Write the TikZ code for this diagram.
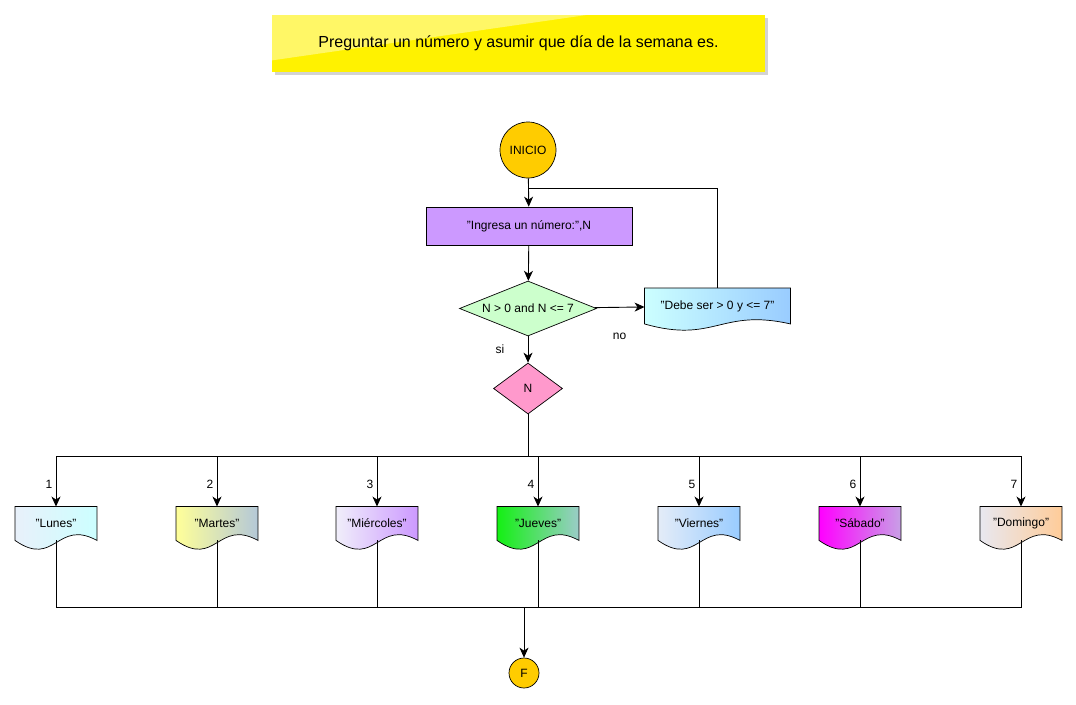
\documentclass[tikz,border=0pt]{standalone}
\usepackage{fontspec}
\setmainfont{Liberation Sans}
\usetikzlibrary{shapes.geometric, arrows.meta, backgrounds, shadows}
\definecolor{inicio}{RGB}{255,204,0}
\definecolor{ingresa}{RGB}{204,153,255}
\definecolor{cond}{RGB}{204,255,204}
\definecolor{sel}{RGB}{255,153,204}
\definecolor{cyanA}{RGB}{204,255,255}
\definecolor{blueB}{RGB}{153,204,255}
\definecolor{lunA}{RGB}{232,240,250}
\definecolor{marA}{RGB}{255,255,153}
\definecolor{marB}{RGB}{180,200,216}
\definecolor{mieA}{RGB}{240,238,250}
\definecolor{jueA}{RGB}{20,240,20}
\definecolor{jueB}{RGB}{155,204,200}
\definecolor{vieA}{RGB}{228,236,248}
\definecolor{sabA}{RGB}{255,0,255}
\definecolor{sabB}{RGB}{200,160,230}
\definecolor{domA}{RGB}{232,232,240}
\definecolor{domB}{RGB}{255,204,153}
\tikzstyle{term} = [circle, draw, fill=inicio, inner sep=0, line width=0.7pt]
\tikzstyle{proc} = [rectangle, draw, fill=ingresa, minimum width=206pt, minimum height=38pt, line width=0.7pt]
\tikzstyle{decision} = [diamond, draw, inner sep=0, aspect=2.5, line width=0.7pt]
\tikzstyle{doc} = [rectangle, inner sep=0, minimum width=81pt, minimum height=33pt]
\tikzstyle{arrow} = [->,>={Stealth[length=10pt,width=9pt,inset=3pt]}]

\begin{document}
\begin{tikzpicture}[x=1pt,y=-1pt,line width=0.9pt,font=\fontsize{12}{14}\selectfont]
\useasboundingbox (0,0) rectangle (1076,704);

% title
\node[minimum width=493pt, minimum height=57pt, font=\fontsize{16}{19}\selectfont] (tit) at (518.5,43.5) {Preguntar un número y asumir que día de la semana es.};
\begin{scope}[on background layer]
\fill[yellow, drop shadow={opacity=0.35, shadow xshift=3pt, shadow yshift=-3pt}] (tit.north west) rectangle (tit.south east);
\fill[white, opacity=0.4] (tit.north west) -- ([xshift=318pt]tit.north west) -- ([yshift=12pt]tit.south west) -- cycle;
\end{scope}

\node[term, minimum size=56pt] (ini) at (528,150) {INICIO};
\node[proc] (ing) at (529,226) {"Ingresa un número:",N};
\node[decision, fill=cond, minimum width=137pt, minimum height=55pt] (cond) at (528,308.5) {N > 0 and N <= 7};
\node[doc, minimum width=145pt, minimum height=35pt] (debe) at (717.5,306) {"Debe ser > 0 y <= 7"};
\begin{scope}[on background layer]
\draw[line width=0.7pt, left color=cyanA, right color=blueB] (debe.north west) -- (debe.north east) -- (debe.south east) .. controls +(-70,-16) and +(70,20) .. (debe.south west) -- cycle;
\end{scope}
\node[decision, fill=sel, minimum width=69pt, minimum height=51pt] (sel) at (528,388.5) {N};
\node[term, minimum size=30pt] (fin) at (524,673) {F};

\coordinate (lp) at (528,188);
\coordinate (top) at (528,456);
\coordinate (bot) at (524,607);

\draw[arrow] (ini) -- (ing);
\draw[arrow] (ing) -- (cond);
\draw[arrow] (cond) -- node[below=22pt]{no} (debe);
\draw (debe.north) |- (lp);
\draw[arrow] (cond) -- node[left=20pt]{si} (sel);
\draw (sel.south) -- (top);

% days of the week
\foreach \i/\x/\t/\lc/\rc in {1/56/"Lunes"/lunA/cyanA, 2/217/"Martes"/marA/marB, 3/377/"Miércoles"/mieA/ingresa, 4/538/"Jueves"/jueA/jueB, 5/699/"Viernes"/vieA/blueB, 6/860/"Sábado"/sabA/sabB, 7/1021/"Domingo"/domA/domB}{
	\node[doc] (d\i) at (\x,523.5) {\t};
	\begin{scope}[on background layer]
	\draw[line width=0.7pt, left color=\lc, right color=\rc] (d\i.north west) -- (d\i.north east) -- (d\i.south east) .. controls +(-40,-22) and +(40,28) .. (d\i.south west) -- cycle;
	\end{scope}
	\draw[arrow] (top) -| node[pos=0.78,left]{\i} (d\i.north);
	\draw (d\i.south) |- (bot);
}
\draw[arrow] (bot) -- (fin);
\end{tikzpicture}
\end{document}
